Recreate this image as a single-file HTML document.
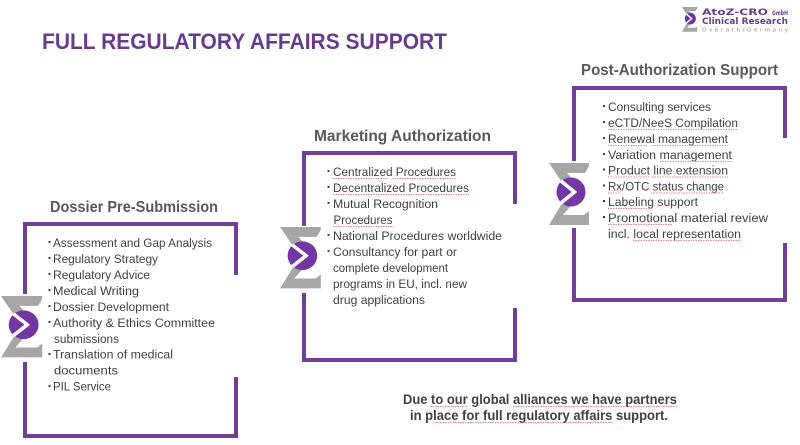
<!DOCTYPE html>
<html><head><meta charset="utf-8"><style>
html,body{margin:0;padding:0;background:#fff;width:800px;height:445px;overflow:hidden}
svg{display:block}
.it{font-family:"Liberation Sans",sans-serif;font-size:12.3px;fill:#404040}
.hd{font-family:"Liberation Sans",sans-serif;font-size:16px;font-weight:bold;fill:#595959}
.bt{font-family:"Liberation Sans",sans-serif;font-size:13.5px;font-weight:bold;fill:#404040}
.ul{stroke:#e06b6b;stroke-width:1;stroke-dasharray:1.5 1;fill:none;opacity:.8}
.bd{fill:#723e98}
</style></head><body>
<svg width="800" height="445" viewBox="0 0 800 445" xmlns="http://www.w3.org/2000/svg">
<defs>
<g id="sig">
<polygon points="0,0 40,0 40,3 36,10 18,10 30,24 20,30" fill="#a6a6a6"/>
<polygon points="18,32 26,38 14,52 35,52 40,48 40,62 0,62" fill="#a6a6a6"/>
<circle cx="22" cy="29" r="14.5" fill="#7436a2"/>
<polyline points="12,18 25.5,29 12,40" fill="none" stroke="#fff" stroke-width="3.5"/>
</g>
</defs>

<!-- Title -->
<text x="42" y="49" font-family="Liberation Sans, sans-serif" font-weight="bold" font-size="22.5" fill="#6a3b8c" textLength="405" lengthAdjust="spacingAndGlyphs">FULL REGULATORY AFFAIRS SUPPORT</text>

<!-- Logo -->
<use href="#sig" transform="translate(682,7) scale(0.38,0.4)"/>
<text x="702" y="15" font-family="DejaVu Sans, sans-serif" font-weight="bold" font-size="9" fill="#6a3b8c" textLength="66" lengthAdjust="spacingAndGlyphs">AtoZ-CRO</text>
<text x="772" y="15" font-family="DejaVu Sans, sans-serif" font-weight="bold" font-size="6.5" fill="#6a3b8c" textLength="16" lengthAdjust="spacingAndGlyphs">GmbH</text>
<text x="702" y="24" font-family="DejaVu Sans, sans-serif" font-weight="bold" font-size="9" fill="#6a3b8c" textLength="86" lengthAdjust="spacingAndGlyphs">Clinical Research</text>
<text x="702" y="31.5" font-family="DejaVu Sans, sans-serif" font-size="5.5" fill="#8c8c8c" textLength="86" lengthAdjust="spacing">Overath/Germany</text>

<!-- ===== Box 1: Dossier Pre-Submission ===== -->
<text class="hd" x="50" y="212" textLength="168" lengthAdjust="spacingAndGlyphs">Dossier Pre-Submission</text>
<rect class="bd" x="23" y="222" width="215" height="4"/>
<rect class="bd" x="23" y="434" width="215" height="4"/>
<rect class="bd" x="23" y="222" width="4" height="72"/>
<rect class="bd" x="23" y="362" width="4" height="76"/>
<rect class="bd" x="234" y="222" width="4" height="53"/>
<rect class="bd" x="234" y="377" width="4" height="61"/>
<use href="#sig" transform="translate(1,296) scale(1.03,0.99)"/>

<g fill="#404040">
<rect x="48.5" y="241" width="2" height="2"/><rect x="48.5" y="257" width="2" height="2"/>
<rect x="48.5" y="273" width="2" height="2"/><rect x="48.5" y="289" width="2" height="2"/>
<rect x="48.5" y="305" width="2" height="2"/><rect x="48.5" y="321" width="2" height="2"/>
<rect x="48.5" y="353" width="2" height="2"/><rect x="48.5" y="385" width="2" height="2"/>
</g>
<text class="it" x="53" y="247" textLength="159" lengthAdjust="spacingAndGlyphs">Assessment and Gap Analysis</text>
<text class="it" x="53" y="263" textLength="105" lengthAdjust="spacingAndGlyphs">Regulatory Strategy</text>
<text class="it" x="53" y="279" textLength="97" lengthAdjust="spacingAndGlyphs">Regulatory Advice</text>
<text class="it" x="53" y="295" textLength="86" lengthAdjust="spacingAndGlyphs">Medical Writing</text>
<text class="it" x="53" y="311" textLength="116" lengthAdjust="spacingAndGlyphs">Dossier Development</text>
<text class="it" x="53" y="327" textLength="162" lengthAdjust="spacingAndGlyphs">Authority &amp; Ethics Committee</text>
<text class="it" x="54" y="343" textLength="65" lengthAdjust="spacingAndGlyphs">submissions</text>
<text class="it" x="53" y="358.5" textLength="120" lengthAdjust="spacingAndGlyphs">Translation of medical</text>
<text class="it" x="54" y="374.5" textLength="64" lengthAdjust="spacingAndGlyphs">documents</text>
<text class="it" x="53" y="390.5" textLength="58" lengthAdjust="spacingAndGlyphs">PIL Service</text>

<!-- ===== Box 2: Marketing Authorization ===== -->
<text class="hd" x="314" y="141" textLength="177" lengthAdjust="spacingAndGlyphs">Marketing Authorization</text>
<rect class="bd" x="302" y="151" width="215" height="4"/>
<rect class="bd" x="302" y="358" width="215" height="4"/>
<rect class="bd" x="302" y="151" width="4" height="75"/>
<rect class="bd" x="302" y="293" width="4" height="69"/>
<rect class="bd" x="513" y="151" width="4" height="53"/>
<rect class="bd" x="513" y="308" width="4" height="54"/>
<use href="#sig" transform="translate(280,227) scale(1.02,0.99)"/>

<g fill="#404040">
<rect x="327.5" y="170" width="2" height="2"/><rect x="327.5" y="186" width="2" height="2"/>
<rect x="327.5" y="202" width="2" height="2"/><rect x="327.5" y="234" width="2" height="2"/>
<rect x="327.5" y="250" width="2" height="2"/>
</g>
<text class="it" x="333" y="176" textLength="123" lengthAdjust="spacingAndGlyphs">Centralized Procedures</text>
<text class="it" x="333" y="192" textLength="136" lengthAdjust="spacingAndGlyphs">Decentralized Procedures</text>
<text class="it" x="333" y="208" textLength="105" lengthAdjust="spacingAndGlyphs">Mutual Recognition</text>
<text class="it" x="333.5" y="224" textLength="59" lengthAdjust="spacingAndGlyphs">Procedures</text>
<text class="it" x="333" y="240" textLength="169" lengthAdjust="spacingAndGlyphs">National Procedures worldwide</text>
<text class="it" x="333" y="256" textLength="124" lengthAdjust="spacingAndGlyphs">Consultancy for part or</text>
<text class="it" x="333" y="272" textLength="115" lengthAdjust="spacingAndGlyphs">complete development</text>
<text class="it" x="333" y="288" textLength="134" lengthAdjust="spacingAndGlyphs">programs in EU, incl. new</text>
<text class="it" x="333" y="304" textLength="92" lengthAdjust="spacingAndGlyphs">drug applications</text>
<path class="ul" d="M333 178.5H388 M392 178.5H457 M333 194.5H470 M333 226.5H394"/>

<!-- ===== Box 3: Post-Authorization Support ===== -->
<text class="hd" x="581" y="75" textLength="197" lengthAdjust="spacingAndGlyphs">Post-Authorization Support</text>
<rect class="bd" x="572" y="86" width="215" height="4"/>
<rect class="bd" x="572" y="298" width="215" height="4"/>
<rect class="bd" x="572" y="86" width="4" height="75"/>
<rect class="bd" x="572" y="228" width="4" height="74"/>
<rect class="bd" x="783" y="86" width="4" height="52"/>
<rect class="bd" x="783" y="243" width="4" height="59"/>
<use href="#sig" transform="translate(549,163)"/>

<g fill="#404040">
<rect x="603" y="105" width="2" height="2"/><rect x="603" y="121" width="2" height="2"/>
<rect x="603" y="137" width="2" height="2"/><rect x="603" y="153" width="2" height="2"/>
<rect x="603" y="168.5" width="2" height="2"/><rect x="603" y="184.5" width="2" height="2"/>
<rect x="603" y="200" width="2" height="2"/><rect x="603" y="216" width="2" height="2"/>
</g>
<text class="it" x="608" y="111" textLength="103" lengthAdjust="spacingAndGlyphs">Consulting services</text>
<text class="it" x="608" y="127" textLength="130" lengthAdjust="spacingAndGlyphs">eCTD/NeeS Compilation</text>
<text class="it" x="608" y="143" textLength="120" lengthAdjust="spacingAndGlyphs">Renewal management</text>
<text class="it" x="608" y="159" textLength="124" lengthAdjust="spacingAndGlyphs">Variation management</text>
<text class="it" x="608" y="174.5" textLength="120" lengthAdjust="spacingAndGlyphs">Product line extension</text>
<text class="it" x="608" y="190.5" textLength="116" lengthAdjust="spacingAndGlyphs">Rx/OTC status change</text>
<text class="it" x="608" y="206" textLength="90" lengthAdjust="spacingAndGlyphs">Labeling support</text>
<text class="it" x="608" y="222" textLength="160" lengthAdjust="spacingAndGlyphs">Promotional material review</text>
<text class="it" x="608" y="238" textLength="133" lengthAdjust="spacingAndGlyphs">incl. local representation</text>
<path class="ul" d="M608 129.5H738 M608 145.5H648 M652 145.5H728 M660 161.5H732 M608 177H649 M652 177H728 M608 193H620 M651 193H724 M608 208.5H652 M608 224.5H672 M633 240.5H741"/>

<!-- Bottom note -->
<text class="bt" x="403" y="404" textLength="274" lengthAdjust="spacingAndGlyphs">Due to our global alliances we have partners</text>
<text class="bt" x="410" y="420" textLength="258" lengthAdjust="spacingAndGlyphs">in place for full regulatory affairs support.</text>
<path class="ul" d="M430 406.5H468 M513 406.5H677 M435 422.5H613"/>
</svg>
</body></html>
